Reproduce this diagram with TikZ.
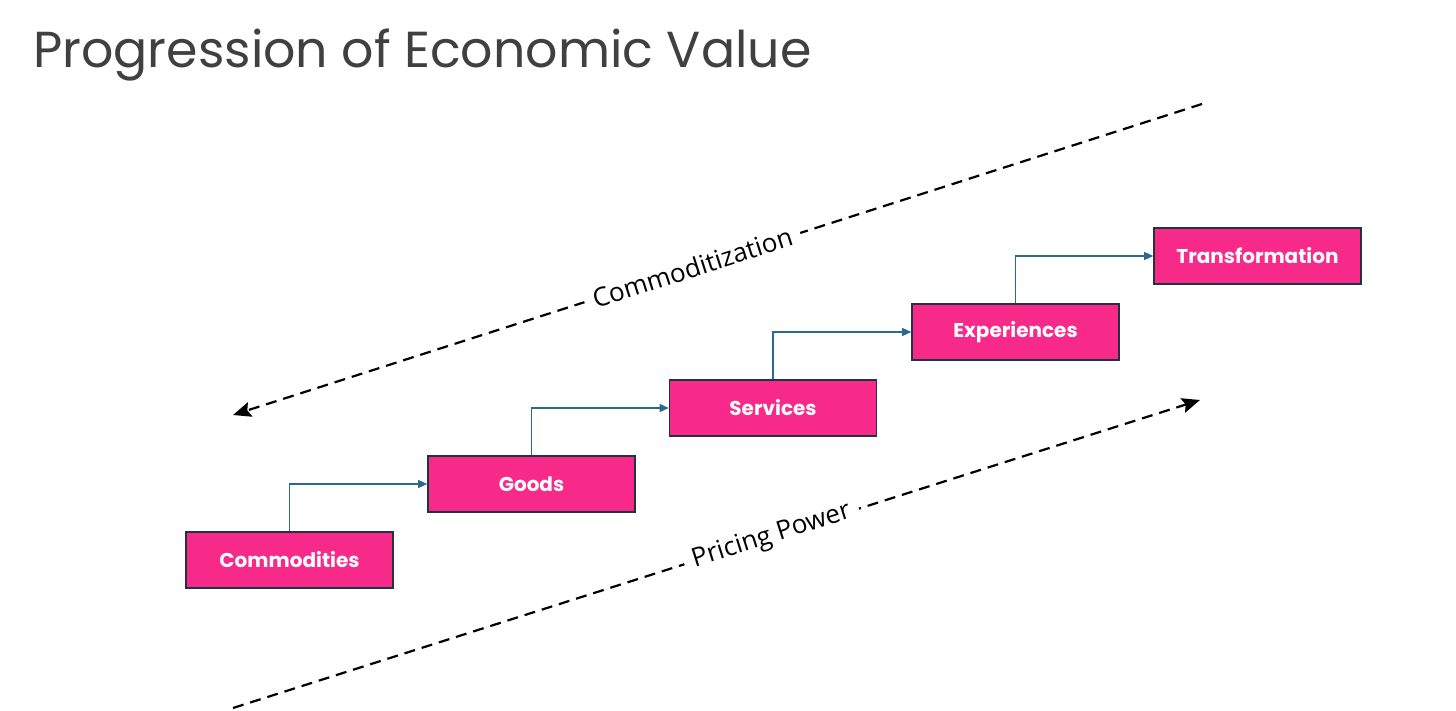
\documentclass[tikz,border=0pt]{standalone}
\usepackage{fontspec}
\setmainfont{Open Sans}
\newfontfamily\titlefont{Poppins}
\newfontfamily\boxfont{Poppins}
\usetikzlibrary{arrows.meta}

\definecolor{stagepink}{HTML}{F72A8A}
\definecolor{stageedge}{HTML}{1E3440}
\definecolor{steplink}{HTML}{2B6A8C}
\definecolor{titlegray}{HTML}{404040}

\tikzset{
  stagebox/.style={draw=stageedge, line width=1.6pt, fill=stagepink,
    minimum width=207pt, minimum height=56pt, inner sep=0pt,
    text=white, font=\boxfont\bfseries\fontsize{20}{22}\selectfont},
  steplink/.style={draw=steplink, line width=1.3pt,
    -{Triangle[length=9pt,width=8pt]}},
  trend/.style={line width=2.2pt, dash pattern=on 11pt off 7pt,
    -{Stealth[length=18pt,width=15pt,inset=3pt]}},
  trendlabel/.style={sloped, fill=white, inner sep=9pt,
    font=\fontsize{26}{28}\selectfont}
}

\begin{document}
\begin{tikzpicture}[x=1pt, y=-1pt]
    \useasboundingbox (0,0) rectangle (1456,711);

    % Titre
    \node[anchor=base west, text=titlegray, inner sep=0pt,
          font=\titlefont\fontsize{50.6}{56}\selectfont] (title) at (33,68)
          {Progression of Economic Value};

    % Etapes
    \node[stagebox] (comm)  at (289.5,560) {Commodities};
    \node[stagebox] (goods) at (531.5,484) {Goods};
    \node[stagebox] (serv)  at (773,408)   {Services};
    \node[stagebox] (exper) at (1015.5,332) {Experiences};
    \node[stagebox] (trans) at (1257.5,256) {Transformation};

    % Liens
    \draw[steplink] (comm.north)  |- (goods.west);
    \draw[steplink] (goods.north) |- (serv.west);
    \draw[steplink] (serv.north)  |- (exper.west);
    \draw[steplink] (exper.north) |- (trans.west);

    % Tendances
    \coordinate (commstart) at (1202,104);
    \coordinate (commend)   at (233,415);
    \coordinate (pricestart) at (233,708);
    \coordinate (priceend)   at (1200,400);

    \draw[trend] (commstart) -- node[trendlabel, pos=0.526] (commlabel)
        {Commoditization} (commend);
    \draw[trend] (pricestart) -- node[trendlabel, pos=0.557] (pricelabel)
        {Pricing Power} (priceend);
\end{tikzpicture}
\end{document}
